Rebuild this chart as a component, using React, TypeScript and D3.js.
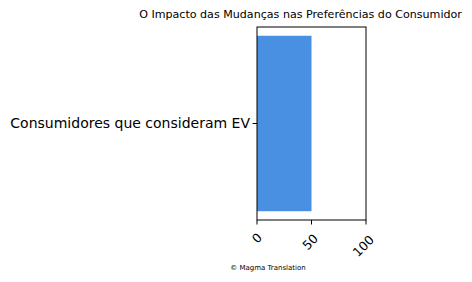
import React from "react";
import * as d3 from "d3";

const categories = ["Consumidores que consideram EV"];
const values = [50];
const xTicks = [0, 50, 100];
const title = "O Impacto das Mudanças nas Preferências do Consumidor";
const footer = "© Magma Translation";

const W = 472, H = 282;
const left = 257, right = 366, top = 27, bottom = 220;

export default function App() {
  const x = d3.scaleLinear().domain([0, 100]).range([left, right]);
  const y = d3.scaleLinear().domain([-0.44, 0.44]).range([bottom, top]);
  const font = "DejaVu Sans, sans-serif";
  return (
    <svg width={W} height={H} style={{ position: "absolute", left: 0, top: 0, background: "#fff" }} fontFamily={font}>
      <text x={300.5} y={18} fontSize={11.1} textAnchor="middle" fill="#000">{title}</text>
      {categories.map((c, i) => (
        <rect key={c} x={x(0)} y={y(i + 0.4)} width={x(values[i]) - x(0)} height={y(i - 0.4) - y(i + 0.4)} fill="#4a90e2" />
      ))}
      <rect x={left} y={top} width={right - left} height={bottom - top} fill="none" stroke="#000" strokeWidth={1} />
      {categories.map((c, i) => (
        <g key={c}>
          <line x1={left - 4.5} x2={left} y1={y(i)} y2={y(i)} stroke="#000" strokeWidth={1} />
          <text x={left - 7} y={y(i)} dy="0.35em" fontSize={14} textAnchor="end" fill="#000">{c}</text>
        </g>
      ))}
      {xTicks.map((t) => {
        const n = String(t).length - 1;
        return (
          <g key={t}>
            <line x1={x(t)} x2={x(t)} y1={bottom} y2={bottom + 4.5} stroke="#000" strokeWidth={1} />
            <text transform={`translate(${x(t) - n * 1.3},${bottom + 18 + n * 4}) rotate(-45)`} fontSize={12.5} textAnchor="middle" dy="0.35em" fill="#000">{t}</text>
          </g>
        );
      })}
      <text x={268} y={270} fontSize={7} textAnchor="middle" fill="#000">{footer}</text>
    </svg>
  );
}
